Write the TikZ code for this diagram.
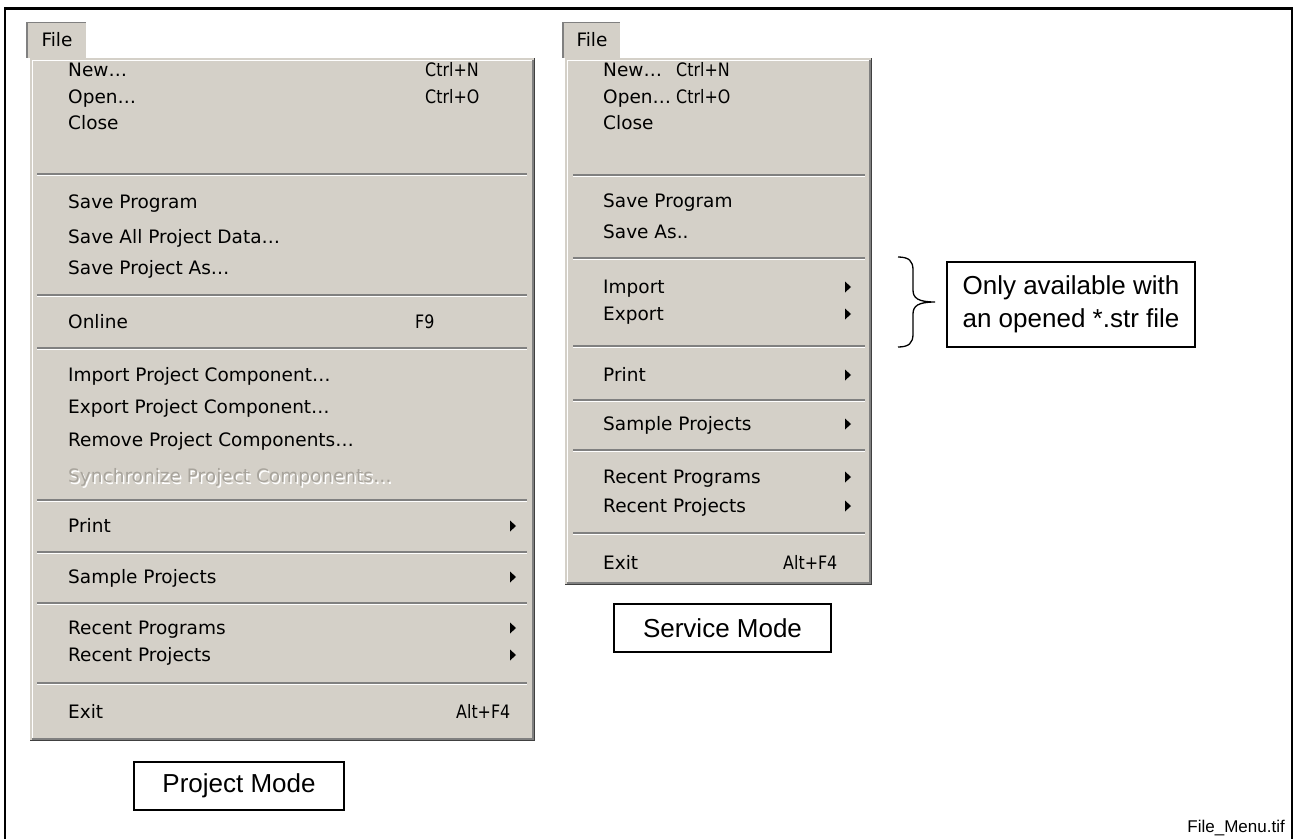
\documentclass[tikz,border=0pt]{standalone}
\usepackage{fontspec}
\newfontfamily\menufont{DejaVu Sans}
\newfontfamily\keyfont[FakeStretch=0.86]{DejaVu Sans}
\newfontfamily\labelfont{Liberation Sans}
\definecolor{menubg}{HTML}{D4D0C8}
\definecolor{shadowdark}{HTML}{404040}
\definecolor{shadowmid}{HTML}{808080}
\definecolor{greyedtext}{HTML}{A8A49C}

\tikzset{
  item/.style={anchor=west, inner sep=0pt, text height=13pt, text depth=4pt, yshift=-2pt,
    font={\menufont\fontsize{18.5}{20}\selectfont}},
  keytext/.style={item, font={\keyfont\fontsize{18.5}{20}\selectfont}},
  greyed/.style={item, text=greyedtext},
  tabbtn/.style={fill=menubg, inner sep=0pt, minimum height=35pt,
    font={\menufont\fontsize{18.5}{20}\selectfont}},
  labelbox/.style={draw, line width=1.3pt, inner sep=0pt, align=center,
    font={\labelfont\fontsize{26}{33}\selectfont}},
  sepdark/.style={shadowmid, line width=1.5pt},
  seplight/.style={white, line width=1.5pt},
}

% separator line of a menu: from x1 to x2 at height y
\newcommand\menusep[3]{%
  \draw[sepdark] (#1,#3) -- (#2,#3);
  \draw[seplight] (#1,#3+1.5) -- (#2,#3+1.5);}
% submenu arrow centred at (x,y)
\newcommand\subarrow[2]{\fill (#1-3,#2-5.5) -- (#1+3,#2) -- (#1-3,#2+5.5) -- cycle;}
% raised menu panel with classic 3D borders
\newcommand\menupanel[4]{%
  \fill[menubg] (#1,#2) rectangle (#3,#4);
  \draw[shadowdark, line width=1.5pt] (#1,#4-0.75) -- (#3-0.75,#4-0.75) -- (#3-0.75,#2);
  \draw[shadowmid, line width=1.5pt] (#1+1.5,#4-2.25) -- (#3-2.25,#4-2.25) -- (#3-2.25,#2+1.5);
  \draw[white, line width=1.5pt] (#1+2.25,#4-3) -- (#1+2.25,#2+2.25) -- (#3-3,#2+2.25);}

\begin{document}
\begin{tikzpicture}[x=1pt, y=-1pt]
\useasboundingbox (0,0) rectangle (1295,839);
\fill[white] (0,0) rectangle (1295,839);

% outer frame (open at the bottom)
\draw[line width=2.5pt] (5,839) -- (5,8.5) -- (1292,8.5) -- (1292,839);

% ---------------- project mode menu ----------------
\menupanel{30}{58}{535}{741}
\node[tabbtn, minimum width=60pt] (ltab) at (57,40) {File};
\draw[shadowmid, line width=1.5pt] (ltab.south west) -- (ltab.north west) -- (ltab.north east);
\draw[white, line width=1.5pt] (ltab.north east) -- (ltab.south east);

\foreach \y/\t/\n in {70/New…/new, 97/Open…/open, 123/Close/close,
    202/Save Program/saveprog, 237/Save All Project Data…/saveall,
    268/Save Project As…/saveas, 322/Online/online,
    375/Import Project Component…/import, 407/Export Project Component…/export,
    440/Remove Project Components…/remove, 526/Print/print,
    577/Sample Projects/samples, 628/Recent Programs/recprog,
    655/Recent Projects/recproj, 712/Exit/exit}
  \node[item] (l-\n) at (68,\y) {\t};
\node[item, text=white] at (69.5,477.5) {Synchronize Project Components…};
\node[greyed] (l-sync) at (68,476) {Synchronize Project Components…};

\node[keytext] (l-ctrln) at (425,70) {Ctrl+N};
\node[keytext] (l-ctrlo) at (425,97) {Ctrl+O};
\node[keytext] (l-f9) at (415,322) {F9};
\node[keytext] (l-altf4) at (456,712) {Alt+F4};

\foreach \y in {174,295,348,500,552,603,683} { \menusep{37}{527}{\y} }
\foreach \y in {526,577,628,655} { \subarrow{513}{\y} }

% ---------------- service mode menu ----------------
\menupanel{565}{58}{872}{585}
\node[tabbtn, minimum width=58pt] (rtab) at (592,40) {File};
\draw[shadowmid, line width=1.5pt] (rtab.south west) -- (rtab.north west) -- (rtab.north east);
\draw[white, line width=1.5pt] (rtab.north east) -- (rtab.south east);

\foreach \y/\t/\n in {70/New…/new, 97/Open…/open, 123/Close/close,
    201/Save Program/saveprog, 232/Save As../saveas,
    287/Import/import, 314/Export/export, 375/Print/print,
    424/Sample Projects/samples, 477/Recent Programs/recprog,
    506/Recent Projects/recproj, 563/Exit/exit}
  \node[item] (r-\n) at (603,\y) {\t};

\node[keytext] (r-ctrln) at (676,70) {Ctrl+N};
\node[keytext] (r-ctrlo) at (676,97) {Ctrl+O};
\node[keytext] (r-altf4) at (783,563) {Alt+F4};

\foreach \y in {175,258,346,400,450,533} { \menusep{573}{865}{\y} }
\foreach \y in {287,314,375,424,477,506} { \subarrow{848}{\y} }

% ---------------- labels ----------------
\node[labelbox, minimum width=210pt, minimum height=48pt] (projmode) at (239,786) {Project Mode};
\node[labelbox, minimum width=217pt, minimum height=48pt] (servmode) at (722.5,628) {Service Mode};
\node[labelbox, minimum width=248pt, minimum height=85pt] (note) at (1071,304.5)
  {Only available with\\an opened *.str file};

% brace grouping Import / Export
\coordinate (bracetip) at (935,302);
\draw[line width=1.3pt] (898,257) .. controls (909,257) and (913,261) .. (913,270)
  -- (913,290) .. controls (913,298) and (918,302) .. (bracetip)
  .. controls (918,302) and (913,306) .. (913,314)
  -- (913,334) .. controls (913,343) and (909,347) .. (898,347);

\node[anchor=east, inner sep=0pt, font={\labelfont\fontsize{17}{20}\selectfont}] (fname) at (1285,828) {File\_Menu.tif};
\end{tikzpicture}
\end{document}
